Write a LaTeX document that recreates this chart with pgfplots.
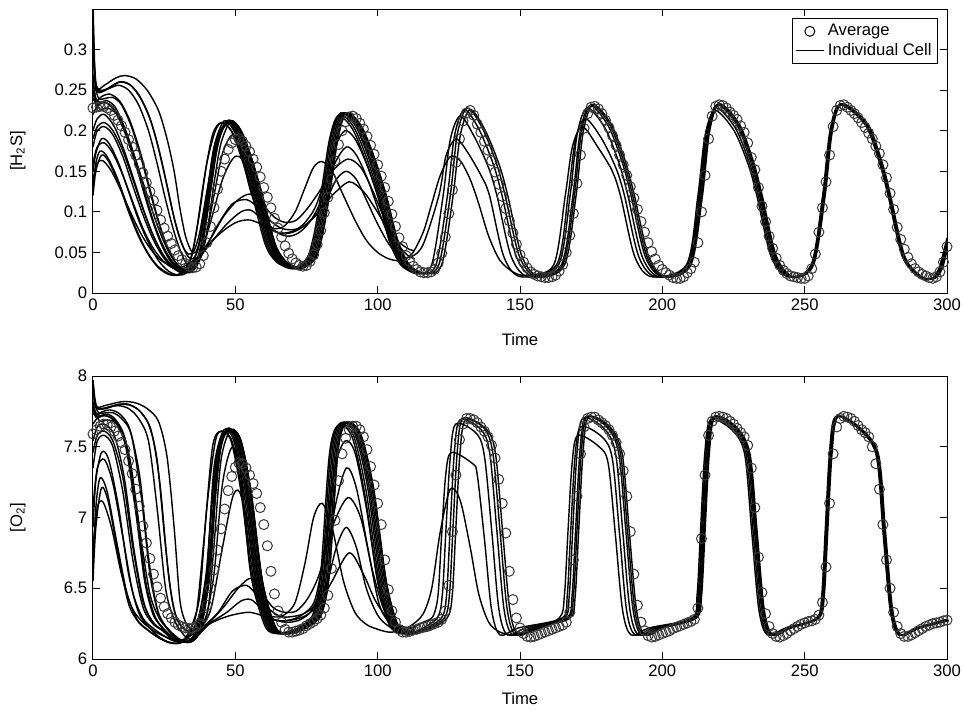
\documentclass[border=0pt]{standalone}
\usepackage{fontspec}
\setmainfont{Liberation Sans}
\usepackage{pgfplots}
\usepackage{pgfplotstable}
\pgfplotsset{compat=1.18}
\pgfplotstableread{
t h o
0 0.228 7.59
1.25 0.229 7.62
2.5 0.23 7.645
3.75 0.23 7.66
5 0.228 7.655
6.25 0.225 7.64
7.5 0.219 7.61
8.75 0.213 7.575
10 0.206 7.53
11.25 0.198 7.48
12.5 0.189 7.4
13.75 0.18 7.31
15 0.17 7.2
16.25 0.159 7.08
17.5 0.148 6.94
18.75 0.136 6.82
20 0.125 6.71
21.25 0.114 6.6
22.5 0.102 6.51
23.75 0.09 6.43
25 0.08 6.37
26.25 0.07 6.32
27.5 0.061 6.29
28.75 0.053 6.26
30 0.046 6.24
31.25 0.041 6.228
32.5 0.036 6.22
33.75 0.033 6.215
35 0.031 6.218
36.25 0.032 6.23
37.5 0.036 6.25
38.75 0.046 6.3
40 0.062 6.38
41.25 0.082 6.5
42.5 0.105 6.63
43.75 0.128 6.77
45 0.15 6.92
46.25 0.165 7.06
47.5 0.177 7.19
48.75 0.185 7.29
50 0.189 7.355
51.25 0.19 7.385
52.5 0.187 7.38
53.75 0.181 7.35
55 0.174 7.3
56.25 0.165 7.24
57.5 0.155 7.17
58.75 0.143 7.07
60 0.13 6.95
61.25 0.118 6.8
62.5 0.105 6.62
63.75 0.092 6.46
65 0.08 6.34
66.25 0.069 6.26
67.5 0.058 6.21
68.75 0.049 6.19
70 0.042 6.19
71.25 0.037 6.197
72.5 0.034 6.205
73.75 0.033 6.215
75 0.034 6.235
76.25 0.039 6.25
77.5 0.047 6.265
78.75 0.06 6.285
80 0.077 6.31
81.25 0.099 6.36
82.5 0.118 6.45
83.75 0.14 6.64
85 0.163 6.98
86.25 0.183 7.26
87.5 0.2 7.45
88.75 0.211 7.56
90 0.217 7.62
91.25 0.218 7.645
92.5 0.215 7.645
93.75 0.209 7.62
95 0.202 7.57
96.25 0.193 7.48
97.5 0.182 7.36
98.75 0.171 7.23
100 0.158 7.1
101.25 0.144 6.95
102.5 0.13 6.7
103.75 0.113 6.49
105 0.097 6.34
106.25 0.082 6.26
107.5 0.068 6.21
108.75 0.057 6.19
110 0.046 6.19
111.25 0.039 6.195
112.5 0.033 6.205
113.75 0.029 6.21
115 0.026 6.22
116.25 0.025 6.225
117.5 0.025 6.23
118.75 0.026 6.24
120 0.029 6.25
121.25 0.037 6.26
122.5 0.049 6.28
123.75 0.069 6.34
125 0.098 6.52
126.25 0.127 6.9
127.5 0.161 7.3
128.75 0.19 7.55
130 0.212 7.66
131.25 0.222 7.7
132.5 0.225 7.7
133.75 0.219 7.69
135 0.208 7.67
136.25 0.198 7.64
137.5 0.187 7.61
138.75 0.176 7.57
140 0.163 7.51
141.25 0.149 7.42
142.5 0.134 7.27
143.75 0.119 7.1
145 0.104 6.89
146.25 0.089 6.62
147.5 0.074 6.42
148.75 0.06 6.29
150 0.047 6.22
151.25 0.038 6.18
152.5 0.031 6.16
153.75 0.026 6.155
155 0.023 6.16
156.25 0.021 6.17
157.5 0.02 6.18
158.75 0.019 6.19
160 0.019 6.2
161.25 0.02 6.21
162.5 0.022 6.22
163.75 0.027 6.23
165 0.035 6.24
166.25 0.05 6.26
167.5 0.071 6.33
168.75 0.098 6.7
170 0.135 7.15
171.25 0.17 7.45
172.5 0.203 7.64
173.75 0.221 7.7
175 0.229 7.71
176.25 0.23 7.71
177.5 0.227 7.69
178.75 0.221 7.67
180 0.213 7.65
181.25 0.204 7.62
182.5 0.194 7.58
183.75 0.182 7.53
185 0.17 7.45
186.25 0.158 7.33
187.5 0.145 7.15
188.75 0.131 6.9
190 0.117 6.6
191.25 0.103 6.38
192.5 0.088 6.26
193.75 0.075 6.2
195 0.062 6.165
196.25 0.051 6.155
197.5 0.042 6.16
198.75 0.034 6.17
200 0.029 6.18
201.25 0.025 6.19
202.5 0.022 6.2
203.75 0.019 6.215
205 0.018 6.225
206.25 0.018 6.235
207.5 0.02 6.245
208.75 0.025 6.255
210 0.03 6.265
211.25 0.038 6.28
212.5 0.062 6.36
213.75 0.1 6.85
215 0.145 7.3
216.25 0.19 7.58
217.5 0.218 7.68
218.75 0.23 7.71
220 0.232 7.715
221.25 0.231 7.71
222.5 0.228 7.7
223.75 0.223 7.68
225 0.219 7.66
226.25 0.214 7.63
227.5 0.206 7.6
228.75 0.198 7.57
230 0.185 7.51
231.25 0.167 7.35
232.5 0.152 7.07
233.75 0.13 6.72
235 0.107 6.47
236.25 0.088 6.32
237.5 0.07 6.23
238.75 0.055 6.18
240 0.043 6.16
241.25 0.034 6.155
242.5 0.028 6.165
243.75 0.024 6.18
245 0.021 6.2
246.25 0.02 6.215
247.5 0.019 6.23
248.75 0.018 6.245
250 0.018 6.255
251.25 0.021 6.265
252.5 0.03 6.27
253.75 0.048 6.28
255 0.075 6.31
256.25 0.105 6.4
257.5 0.137 6.65
258.75 0.17 7.1
260 0.205 7.45
261.25 0.225 7.64
262.5 0.231 7.7
263.75 0.232 7.715
265 0.229 7.71
266.25 0.225 7.7
267.5 0.221 7.68
268.75 0.216 7.65
270 0.21 7.62
271.25 0.204 7.6
272.5 0.197 7.57
273.75 0.19 7.5
275 0.181 7.38
276.25 0.172 7.2
277.5 0.158 6.95
278.75 0.142 6.7
280 0.123 6.5
281.25 0.103 6.33
282.5 0.081 6.23
283.75 0.066 6.18
285 0.054 6.16
286.25 0.044 6.16
287.5 0.036 6.17
288.75 0.03 6.185
290 0.026 6.2
291.25 0.023 6.215
292.5 0.021 6.23
293.75 0.019 6.24
295 0.018 6.25
296.25 0.02 6.255
297.5 0.026 6.26
298.75 0.038 6.27
300 0.057 6.275
}\avgdata
\begin{document}
\begin{tikzpicture}[font=\fontsize{10}{12}\selectfont]
\pgfplotsset{
 cell/.style={black, line width=0.85pt, smooth, mark=none, forget plot},
 avgm/.style={only marks, mark=o, mark size=3pt, color=black!78, mark options={line width=0.6pt}, forget plot},
 base/.style={scale only axis, width=512.4pt, xmin=0, xmax=300, xtick={0,50,100,150,200,250,300},
   tick align=inside, major tick length=4pt, axis line style={line width=0.6pt},
   every tick/.style={black, line width=0.6pt}, /pgf/number format/assume math mode=true,
   anchor=north west, xlabel={Time},
   tick label style={font=\fontsize{10}{12}\selectfont}, label style={font=\fontsize{10}{12}\selectfont}}
}
\useasboundingbox (-55.8pt,5.4pt) rectangle (522.6pt,-420.6pt);
% ---------------- H2S ----------------
\begin{axis}[base, at={(0pt,0pt)}, height=170.4pt, ymin=0, ymax=0.35,
  ytick={0,0.05,0.1,0.15,0.2,0.25,0.3},
  yticklabel style={/pgf/number format/fixed, /pgf/number format/precision=2},
  ylabel={[H\textsubscript{2}S]},
  ylabel style={at={(axis description cs:-0.088,0.5)}, anchor=center},
  xlabel style={at={(axis description cs:0.5,-0.1655)}, anchor=center},
  legend style={at={(axis description cs:1,1)}, anchor=north east, xshift=-5.4pt, yshift=-5.4pt,
    draw=black, line width=0.6pt, font=\fontsize{10}{12}\selectfont, inner sep=1.5pt, row sep=-1pt},
  legend cell align=left]
\addlegendimage{only marks, mark=o, mark size=3pt, black, mark options={line width=0.6pt}}
\addlegendentry{Average}
\addlegendimage{black, line width=0.6pt, mark=none}
\addlegendentry{Individual Cell}
% L1
\addplot[cell] coordinates {(0,0.36)(0.6,0.28)(1.5,0.252)(4,0.256)(8,0.265)(11,0.268)(15,0.264)(19,0.25)(23,0.225)(26,0.19)(28.5,0.15)(30.5,0.105)(32.5,0.07)(34.5,0.052)(36,0.05)(37.5,0.065)(39.5,0.11)(42.5,0.176)(45.5,0.205)(48.5,0.212)(51.5,0.2)(55,0.168)(59,0.12)(63.5,0.06)(67.5,0.038)(72.5,0.03)(77.5,0.042)(80,0.07)(82.5,0.12)(85.5,0.19)(88.5,0.222)(93.5,0.207)(98,0.17)(102.5,0.12)(106.5,0.065)(110.5,0.035)(116,0.024)(121.5,0.035)(125.5,0.12)(128,0.196)(131.5,0.228)(136.8,0.203)(141.8,0.159)(144.8,0.12)(149.8,0.045)(155.8,0.02)(165.1,0.035)(169.1,0.12)(171.6,0.198)(175.1,0.232)(181.6,0.207)(186.6,0.16)(189.6,0.12)(194.6,0.045)(200.6,0.02)(209.8,0.035)(213.8,0.12)(216.3,0.199)(219.8,0.233)(226.8,0.208)(231.8,0.161)(234.8,0.12)(239.8,0.045)(245.8,0.02)(252.9,0.035)(256.9,0.12)(259.4,0.199)(262.9,0.233)(271.9,0.208)(276.9,0.161)(279.9,0.12)(284.9,0.045)(290.9,0.02)(295.5,0.018)(298,0.03)(300,0.058)};
% L2
\addplot[cell] coordinates {(0,0.24)(1,0.235)(3,0.242)(6,0.245)(9.5,0.236)(13,0.212)(16.5,0.175)(19.5,0.135)(22.5,0.095)(25.5,0.062)(28.5,0.04)(31.5,0.028)(34,0.025)(36.5,0.034)(38.5,0.06)(41,0.12)(43.5,0.18)(47,0.212)(50.5,0.2)(54,0.168)(58,0.12)(62.5,0.06)(66.5,0.038)(71.5,0.03)(76.5,0.042)(79,0.07)(81.5,0.12)(84.5,0.19)(87.5,0.222)(92.5,0.207)(97,0.17)(101.5,0.12)(105.5,0.065)(109.5,0.035)(115,0.024)(120.5,0.035)(124.5,0.12)(127,0.194)(130.5,0.226)(135.7,0.201)(140.7,0.158)(143.7,0.12)(148.7,0.045)(154.7,0.02)(164.6,0.035)(168.6,0.12)(171.1,0.197)(174.6,0.231)(181,0.206)(186,0.16)(189,0.12)(194,0.045)(200,0.02)(209.6,0.035)(213.6,0.12)(216.1,0.199)(219.6,0.233)(226.6,0.208)(231.6,0.161)(234.6,0.12)(239.6,0.045)(245.6,0.02)(252.7,0.035)(256.7,0.12)(259.2,0.199)(262.7,0.233)(271.7,0.208)(276.7,0.161)(279.7,0.12)(284.7,0.045)(290.7,0.02)(295.3,0.018)(297.8,0.031)(300,0.062)};
% L3
\addplot[cell] coordinates {(0,0.15)(1,0.172)(3,0.19)(5.5,0.185)(9,0.16)(12.5,0.125)(16,0.09)(19.5,0.062)(23,0.04)(26.5,0.027)(30,0.022)(33,0.025)(35.5,0.04)(37.5,0.065)(40,0.12)(42.5,0.18)(46,0.212)(49.5,0.2)(53,0.168)(57,0.12)(61.5,0.06)(65.5,0.038)(70.5,0.03)(75.5,0.042)(78,0.07)(80.5,0.12)(83.5,0.19)(86.5,0.22)(91.5,0.205)(96,0.168)(100.5,0.12)(104.5,0.065)(108.5,0.035)(114,0.024)(119,0.035)(123,0.12)(125.5,0.189)(129,0.218)(133.9,0.193)(138.9,0.155)(141.9,0.12)(146.9,0.045)(152.9,0.02)(163.6,0.035)(167.6,0.12)(170.1,0.196)(173.6,0.228)(179.9,0.203)(184.9,0.159)(187.9,0.12)(192.9,0.045)(198.9,0.02)(209.2,0.035)(213.2,0.12)(215.7,0.198)(219.2,0.232)(226.2,0.207)(231.2,0.16)(234.2,0.12)(239.2,0.045)(245.2,0.02)(252.6,0.035)(256.6,0.12)(259.1,0.199)(262.6,0.233)(271.6,0.208)(276.6,0.161)(279.6,0.12)(284.6,0.045)(290.6,0.02)(295.2,0.018)(297.7,0.032)(300,0.064)};
% L4
\addplot[cell] coordinates {(0,0.2)(1.5,0.215)(4,0.22)(7.5,0.205)(11,0.175)(14.5,0.138)(18,0.1)(21.5,0.068)(25,0.045)(28.5,0.032)(32,0.03)(36,0.038)(41,0.06)(47,0.085)(52,0.1)(55.5,0.102)(59,0.092)(63,0.08)(67,0.082)(71,0.1)(74.5,0.13)(77.5,0.155)(80.5,0.162)(84,0.15)(88,0.12)(92,0.09)(96,0.065)(100,0.05)(104,0.042)(108,0.04)(112,0.048)(116,0.075)(119,0.11)(122,0.145)(125.5,0.168)(129,0.163)(132.5,0.14)(135.5,0.11)(139,0.07)(143,0.04)(148,0.025)(153,0.022)(161.9,0.035)(165.9,0.12)(168.4,0.18)(171.9,0.205)(177.3,0.18)(182.3,0.151)(185.3,0.12)(190.3,0.045)(196.3,0.02)(208.5,0.035)(212.5,0.12)(215,0.194)(218.5,0.225)(225.2,0.2)(230.2,0.158)(233.2,0.12)(238.2,0.045)(244.2,0.02)(252.3,0.035)(256.3,0.12)(258.8,0.198)(262.3,0.232)(271.3,0.207)(276.3,0.16)(279.3,0.12)(284.3,0.045)(290.3,0.02)(294.9,0.018)(297.4,0.033)(300,0.068)};
% L5
\addplot[cell] coordinates {(0,0.22)(1.5,0.23)(4.5,0.235)(8,0.222)(11.5,0.195)(15,0.158)(18.5,0.118)(22,0.08)(25.5,0.052)(29,0.034)(32.5,0.028)(36,0.035)(39.5,0.055)(44,0.085)(49,0.11)(54,0.115)(58,0.105)(62,0.09)(66,0.08)(70,0.078)(74,0.082)(78,0.095)(82,0.115)(85.5,0.14)(89,0.15)(92.5,0.14)(96,0.115)(100,0.085)(104,0.06)(108,0.045)(112,0.045)(116,0.06)(121.5,0.12)(124,0.169)(127.5,0.19)(131.3,0.175)(136.3,0.145)(139.3,0.12)(144.3,0.045)(150.3,0.02)(162.9,0.035)(166.9,0.12)(169.4,0.187)(172.9,0.215)(178.7,0.19)(183.7,0.154)(186.7,0.12)(191.7,0.045)(197.7,0.02)(208.9,0.035)(212.9,0.12)(215.4,0.196)(218.9,0.228)(225.7,0.203)(230.7,0.159)(233.7,0.12)(238.7,0.045)(244.7,0.02)(252.5,0.035)(256.5,0.12)(259,0.198)(262.5,0.232)(271.5,0.207)(276.5,0.16)(279.5,0.12)(284.5,0.045)(290.5,0.02)(295.1,0.018)(297.6,0.032)(300,0.066)};
% L6
\addplot[cell] coordinates {(0,0.3)(0.8,0.26)(2.5,0.25)(5.5,0.252)(9,0.256)(12.5,0.25)(16,0.232)(19.5,0.2)(22.5,0.16)(25.5,0.115)(28.5,0.075)(31.5,0.045)(34,0.032)(36.5,0.035)(38.5,0.05)(40.5,0.085)(42.5,0.135)(45,0.185)(48.5,0.212)(52,0.2)(55.5,0.168)(59.5,0.12)(64,0.06)(68,0.038)(73,0.03)(78,0.042)(80.5,0.07)(83,0.12)(86,0.19)(89,0.222)(94,0.207)(98.5,0.17)(103,0.12)(107,0.065)(111,0.035)(117,0.024)(122.5,0.035)(126.5,0.12)(129,0.194)(132.5,0.226)(137.7,0.201)(142.7,0.158)(145.7,0.12)(150.7,0.045)(156.7,0.02)(165.7,0.035)(169.7,0.12)(172.2,0.198)(175.7,0.232)(182.2,0.207)(187.2,0.16)(190.2,0.12)(195.2,0.045)(201.2,0.02)(210.1,0.035)(214.1,0.12)(216.6,0.199)(220.1,0.233)(227.1,0.208)(232.1,0.161)(235.1,0.12)(240.1,0.045)(246.1,0.02)(253.2,0.035)(257.2,0.12)(259.7,0.199)(263.2,0.233)(272.2,0.208)(277.2,0.161)(280.2,0.12)(285.2,0.045)(291.2,0.02)(295.8,0.018)(298.3,0.03)(300,0.052)};
% E1
\addplot[cell] coordinates {(0,0.33)(0.6,0.27)(1.5,0.25)(4,0.25)(7,0.256)(10,0.26)(13.5,0.255)(17,0.238)(20.5,0.21)(23.5,0.172)(26.5,0.125)(29,0.085)(31.5,0.058)(33.5,0.048)(35.5,0.052)(37.5,0.075)(40,0.125)(43,0.18)(46.5,0.21)(49,0.212)(52,0.2)(55.5,0.168)(59.5,0.12)(64,0.06)(68,0.038)(73,0.03)(78,0.042)(80.5,0.07)(83,0.12)(86,0.19)(89,0.222)(94,0.207)(98.5,0.17)(103,0.12)(107,0.065)(111,0.035)(114,0.027)};
% E2
\addplot[cell] coordinates {(0,0.26)(1,0.24)(2.5,0.235)(5,0.237)(8,0.228)(11.5,0.2)(15,0.16)(18,0.122)(21,0.088)(24,0.06)(27,0.04)(30,0.029)(33,0.026)(35.5,0.033)(38,0.06)(40.5,0.115)(43,0.175)(46,0.207)(48,0.212)(51,0.2)(54.5,0.168)(58.5,0.12)(63,0.06)(67,0.038)(72,0.03)(77,0.042)(79.5,0.07)(82,0.12)(85,0.19)(88,0.222)(93,0.207)(97.5,0.17)(102,0.12)(106,0.065)(110,0.035)(114,0.026)};
% E3
\addplot[cell] coordinates {(0,0.12)(1,0.15)(3,0.17)(5.5,0.162)(9,0.135)(12.5,0.1)(16,0.07)(19.5,0.047)(23,0.031)(26.5,0.023)(30,0.022)(33,0.03)(35,0.05)(37.5,0.1)(40,0.16)(43,0.2)(45.5,0.21)(49,0.198)(52.5,0.166)(56.5,0.12)(61,0.06)(65,0.038)(70,0.03)(75,0.042)(77.5,0.07)(80,0.12)(83,0.188)(86,0.218)(91,0.203)(95.5,0.166)(100,0.12)(104,0.065)(108,0.035)(113,0.024)};
% E4
\addplot[cell] coordinates {(0,0.25)(1,0.232)(3,0.235)(6,0.232)(9.5,0.215)(13,0.185)(16.5,0.148)(20,0.11)(23.5,0.075)(27,0.048)(30.5,0.032)(34,0.028)(37,0.038)(39.5,0.065)(42.5,0.12)(45.5,0.172)(49,0.195)(52,0.175)(55,0.13)(58,0.1)(62,0.08)(66,0.074)(70,0.076)(74,0.085)(78,0.105)(81.5,0.14)(85,0.18)(88.5,0.2)(92,0.19)(96,0.16)(100,0.12)(104,0.075)(108,0.045)(112,0.032)};
% E5
\addplot[cell] coordinates {(0,0.18)(1.5,0.2)(4,0.205)(7,0.195)(10.5,0.168)(14,0.132)(17.5,0.097)(21,0.067)(24.5,0.045)(28,0.031)(31.5,0.026)(35,0.032)(38,0.05)(41.5,0.09)(45.5,0.14)(49,0.165)(51.5,0.168)(54.5,0.15)(57.5,0.115)(61,0.088)(65,0.074)(69,0.07)(73,0.076)(77,0.092)(81,0.12)(85,0.16)(89,0.18)(92.5,0.17)(96.5,0.14)(100.5,0.1)(104.5,0.065)(108.5,0.042)(112,0.033)};
% E6
\addplot[cell] coordinates {(0,0.16)(1.5,0.18)(4,0.185)(7,0.172)(10.5,0.145)(14,0.112)(17.5,0.08)(21,0.056)(24.5,0.04)(28,0.031)(32,0.03)(36,0.04)(41,0.065)(46,0.095)(51,0.115)(55.5,0.122)(59.5,0.11)(63.5,0.094)(67.5,0.087)(71.5,0.09)(75.5,0.105)(79.5,0.125)(84,0.15)(89.5,0.165)(94,0.155)(98,0.128)(102,0.095)(106,0.066)(110,0.048)(113,0.042)};
% E7
\addplot[cell] coordinates {(0,0.14)(1.5,0.16)(3.5,0.163)(6.5,0.15)(10,0.125)(13.5,0.097)(17,0.072)(20.5,0.053)(24,0.04)(28,0.033)(32,0.033)(37,0.045)(42,0.065)(47,0.08)(51,0.088)(55,0.09)(59,0.085)(63,0.077)(67,0.073)(71,0.076)(75,0.085)(79.5,0.1)(84,0.12)(90,0.137)(95,0.125)(99,0.105)(103,0.082)(107,0.064)(111,0.054)(113,0.052)};
% E8
\addplot[cell] coordinates {(0,0.32)(0.7,0.26)(2,0.24)(4.5,0.24)(7,0.241)(10,0.232)(13.5,0.205)(17,0.165)(20,0.125)(23,0.088)(26,0.058)(29,0.038)(32,0.028)(34.5,0.026)(37,0.038)(39,0.07)(41.5,0.13)(44,0.185)(47,0.212)(50,0.2)(53.5,0.168)(57.5,0.12)(62,0.06)(66,0.038)(71,0.03)(76,0.042)(78.5,0.07)(81,0.12)(84,0.19)(87,0.222)(92,0.207)(96.5,0.17)(101,0.12)(105,0.065)(109,0.035)(113,0.026)};
% E9
\addplot[cell] coordinates {(0,0.19)(1.5,0.205)(4,0.21)(7,0.2)(10.5,0.175)(14,0.14)(17.5,0.104)(21,0.072)(24.5,0.048)(28,0.032)(31,0.025)(34,0.027)(36.5,0.04)(38.5,0.065)(41,0.12)(43.5,0.18)(47,0.212)(50.5,0.2)(54,0.168)(58,0.12)(62.5,0.06)(66.5,0.038)(71.5,0.03)};
% E10
\addplot[cell] coordinates {(0,0.34)(0.6,0.27)(1.5,0.248)(4.5,0.25)(9,0.26)(12.5,0.258)(16,0.245)(19.5,0.22)(22.5,0.185)(25.5,0.14)(28,0.1)(30.5,0.068)(33,0.047)(35,0.042)(37,0.055)(39,0.09)(41.5,0.145)(44.5,0.195)(48,0.212)(51,0.2)(54.5,0.168)(58.5,0.12)(63,0.06)(67,0.038)(72,0.03)};
% E11
\addplot[cell] coordinates {(0,0.27)(0.8,0.24)(2.5,0.226)(5,0.228)(8.5,0.22)(12,0.195)(15.5,0.158)(18.5,0.12)(21.5,0.085)(24.5,0.058)(27.5,0.04)(30.5,0.03)(33,0.027)(35.5,0.032)(37.5,0.05)(39.5,0.09)(42,0.15)(45,0.197)(48.5,0.212)(52,0.2)(55.5,0.168)(59.5,0.12)(64,0.06)(68,0.038)(73,0.03)};
% E12
\addplot[cell] coordinates {(0,0.13)(1,0.16)(2.5,0.175)(5,0.168)(8.5,0.142)(12,0.108)(15.5,0.076)(19,0.051)(22.5,0.034)(26,0.025)(29,0.022)(32,0.028)(34.5,0.045)(36.5,0.08)(39,0.14)(42,0.195)(45,0.21)(48.5,0.2)(52,0.168)(56,0.12)(60.5,0.06)(64.5,0.038)(69.5,0.03)};
\addplot[avgm] table[x=t,y=h]{\avgdata};
\end{axis}
% ---------------- O2 ----------------
\begin{axis}[base, at={(0pt,-220.2pt)}, height=169.8pt, ymin=6, ymax=8,
  ytick={6,6.5,7,7.5,8},
  yticklabel style={/pgf/number format/fixed, /pgf/number format/precision=1},
  ylabel={[O\textsubscript{2}]},
  ylabel style={at={(axis description cs:-0.088,0.5)}, anchor=center},
  xlabel style={at={(axis description cs:0.5,-0.138)}, anchor=center}]
% L1
\addplot[cell] coordinates {(0,7.97)(0.6,7.85)(1.5,7.78)(4,7.79)(8,7.81)(11,7.82)(15,7.81)(19,7.77)(23,7.68)(26,7.43)(28.5,6.93)(30.5,6.42)(32.5,6.26)(34.5,6.21)(36,6.21)(37.5,6.29)(39.5,6.5)(42.5,7.3)(45.5,7.58)(48.5,7.62)(51.5,7.54)(55,7.18)(59,6.55)(63.5,6.23)(67.5,6.18)(72.5,6.2)(77.5,6.26)(80,6.33)(82.5,6.6)(85.5,7.46)(88.5,7.67)(93.5,7.59)(98,7.21)(102.5,6.55)(106.5,6.245)(110.5,6.18)(116,6.2)(123.4,6.29)(125.2,6.45)(126.4,6.9)(127.9,7.45)(129.9,7.7)(137.4,7.63)(140.5,7.45)(143,6.9)(145.5,6.35)(148.5,6.17)(155,6.22)(167,6.29)(168.8,6.45)(170,6.9)(171.5,7.45)(173.5,7.71)(181,7.64)(185.3,7.45)(187.8,6.9)(190.3,6.35)(193.3,6.17)(199.8,6.22)(211.7,6.29)(213.5,6.45)(214.7,6.9)(216.2,7.45)(218.2,7.71)(225.7,7.64)(230.5,7.45)(233,6.9)(235.5,6.35)(238.5,6.17)(245,6.22)(254.8,6.29)(256.6,6.45)(257.8,6.9)(259.3,7.45)(261.3,7.71)(268.8,7.64)(275.6,7.45)(278.1,6.9)(280.6,6.35)(283.6,6.17)(290.1,6.22)(300,6.27)};
% L2
\addplot[cell] coordinates {(0,7.74)(1,7.72)(3,7.745)(6,7.76)(9.5,7.73)(13,7.62)(16.5,7.28)(19.5,6.72)(22.5,6.36)(25.5,6.23)(28.5,6.16)(31.5,6.13)(34,6.12)(36.5,6.18)(38.5,6.3)(41,6.6)(43.5,7.35)(47,7.62)(50.5,7.54)(54,7.18)(58,6.55)(62.5,6.23)(66.5,6.18)(71.5,6.2)(76.5,6.26)(79,6.33)(81.5,6.6)(84.5,7.46)(87.5,7.67)(92.5,7.59)(97,7.21)(101.5,6.55)(105.5,6.245)(109.5,6.18)(115,6.2)(122.4,6.29)(124.2,6.45)(125.4,6.9)(126.9,7.45)(128.9,7.69)(136.4,7.62)(139.4,7.45)(141.9,6.9)(144.4,6.35)(147.4,6.17)(153.9,6.22)(166.5,6.29)(168.3,6.45)(169.5,6.9)(171,7.45)(173,7.71)(180.5,7.64)(184.7,7.45)(187.2,6.9)(189.7,6.35)(192.7,6.17)(199.2,6.22)(211.5,6.29)(213.3,6.45)(214.5,6.9)(216,7.45)(218,7.71)(225.5,7.64)(230.3,7.45)(232.8,6.9)(235.3,6.35)(238.3,6.17)(244.8,6.22)(254.6,6.29)(256.4,6.45)(257.6,6.9)(259.1,7.45)(261.1,7.71)(268.6,7.64)(275.4,7.45)(277.9,6.9)(280.4,6.35)(283.4,6.17)(289.9,6.22)(300,6.27)};
% L3
\addplot[cell] coordinates {(0,6.93)(1,7.26)(3,7.46)(5.5,7.41)(9,7.07)(12.5,6.6)(16,6.33)(19.5,6.23)(23,6.16)(26.5,6.12)(30,6.11)(33,6.14)(35.5,6.22)(37.5,6.32)(40,6.6)(42.5,7.35)(46,7.62)(49.5,7.54)(53,7.18)(57,6.55)(61.5,6.23)(65.5,6.18)(70.5,6.2)(75.5,6.26)(78,6.33)(80.5,6.6)(83.5,7.46)(86.5,7.66)(91.5,7.58)(96,7.18)(100.5,6.55)(104.5,6.245)(108.5,6.18)(114,6.2)(120.9,6.29)(122.7,6.45)(123.9,6.88)(125.4,7.4)(127.4,7.66)(134.9,7.59)(137.6,7.42)(140.1,6.9)(142.6,6.35)(145.6,6.17)(152.1,6.22)(165.5,6.29)(167.3,6.45)(168.5,6.9)(170,7.45)(172,7.7)(179.5,7.63)(183.6,7.45)(186.1,6.9)(188.6,6.35)(191.6,6.17)(198.1,6.22)(211.1,6.29)(212.9,6.45)(214.1,6.9)(215.6,7.45)(217.6,7.71)(225.1,7.64)(229.9,7.45)(232.4,6.9)(234.9,6.35)(237.9,6.17)(244.4,6.22)(254.5,6.29)(256.3,6.45)(257.5,6.9)(259,7.45)(261,7.71)(268.5,7.64)(275.3,7.45)(277.8,6.9)(280.3,6.35)(283.3,6.17)(289.8,6.22)(300,6.27)};
% L4
\addplot[cell] coordinates {(0,7.54)(1.5,7.64)(4,7.66)(7.5,7.58)(11,7.28)(14.5,6.76)(18,6.39)(21.5,6.25)(25,6.2)(28.5,6.14)(32,6.12)(36,6.15)(41,6.25)(47,6.33)(52,6.41)(55.5,6.42)(59,6.36)(63,6.3)(67,6.31)(71,6.4)(74.5,6.68)(77.5,7.0)(80.5,7.1)(84,6.93)(88,6.55)(92,6.33)(96,6.245)(100,6.21)(104,6.19)(108,6.2)(112,6.24)(116,6.32)(119,6.5)(122,6.9)(125.5,7.2)(129,7.12)(132.5,6.79)(135.5,6.46)(139,6.26)(143,6.19)(148,6.17)(153,6.19)(163.8,6.29)(165.6,6.45)(166.8,6.88)(168.3,7.38)(170.3,7.58)(177.8,7.5)(181,7.38)(183.5,6.88)(186,6.35)(189,6.17)(195.5,6.22)(210.4,6.29)(212.2,6.45)(213.4,6.9)(214.9,7.45)(216.9,7.69)(224.4,7.62)(228.9,7.45)(231.4,6.9)(233.9,6.35)(236.9,6.17)(243.4,6.22)(254.2,6.29)(256,6.45)(257.2,6.9)(258.7,7.45)(260.7,7.71)(268.2,7.64)(275,7.45)(277.5,6.9)(280,6.35)(283,6.17)(289.5,6.22)(300,6.28)};
% L5
\addplot[cell] coordinates {(0,7.66)(1.5,7.7)(4.5,7.72)(8,7.67)(11.5,7.5)(15,7.04)(18.5,6.53)(22,6.29)(25.5,6.2)(29,6.14)(32.5,6.12)(36,6.15)(39.5,6.24)(44,6.33)(49,6.48)(54,6.52)(58,6.44)(62,6.35)(66,6.3)(70,6.3)(74,6.32)(78,6.38)(82,6.52)(85.5,6.79)(89,6.93)(92.5,6.79)(96,6.5)(100,6.31)(104,6.23)(108,6.2)(112,6.22)(116,6.26)(119.4,6.3)(121.2,6.45)(122.4,6.85)(123.9,7.3)(125.9,7.46)(133.4,7.38)(135,7.3)(137.5,6.85)(140,6.35)(143,6.17)(149.5,6.22)(164.8,6.29)(166.6,6.45)(167.8,6.9)(169.3,7.42)(171.3,7.64)(178.8,7.57)(182.4,7.42)(184.9,6.9)(187.4,6.35)(190.4,6.17)(196.9,6.22)(210.8,6.29)(212.6,6.45)(213.8,6.9)(215.3,7.45)(217.3,7.7)(224.8,7.63)(229.4,7.45)(231.9,6.9)(234.4,6.35)(237.4,6.17)(243.9,6.22)(254.4,6.29)(256.2,6.45)(257.4,6.9)(258.9,7.45)(260.9,7.71)(268.4,7.64)(275.2,7.45)(277.7,6.9)(280.2,6.35)(283.2,6.17)(289.7,6.22)(300,6.28)};
% L6
\addplot[cell] coordinates {(0,7.9)(0.8,7.8)(2.5,7.77)(5.5,7.78)(9,7.79)(12.5,7.77)(16,7.7)(19.5,7.54)(22.5,7.07)(25.5,6.5)(28.5,6.28)(31.5,6.18)(34,6.14)(36.5,6.16)(38.5,6.25)(40.5,6.36)(42.5,6.8)(45,7.41)(48.5,7.62)(52,7.54)(55.5,7.18)(59.5,6.55)(64,6.23)(68,6.18)(73,6.2)(78,6.26)(80.5,6.33)(83,6.6)(86,7.46)(89,7.67)(94,7.59)(98.5,7.21)(103,6.55)(107,6.245)(111,6.18)(117,6.2)(124.4,6.29)(126.2,6.45)(127.4,6.9)(128.9,7.45)(130.9,7.69)(138.4,7.62)(141.4,7.45)(143.9,6.9)(146.4,6.35)(149.4,6.17)(155.9,6.22)(167.6,6.29)(169.4,6.45)(170.6,6.9)(172.1,7.45)(174.1,7.71)(181.6,7.64)(185.9,7.45)(188.4,6.9)(190.9,6.35)(193.9,6.17)(200.4,6.22)(212,6.29)(213.8,6.45)(215,6.9)(216.5,7.45)(218.5,7.71)(226,7.64)(230.8,7.45)(233.3,6.9)(235.8,6.35)(238.8,6.17)(245.3,6.22)(255.1,6.29)(256.9,6.45)(258.1,6.9)(259.6,7.45)(261.6,7.71)(269.1,7.64)(275.9,7.45)(278.4,6.9)(280.9,6.35)(283.9,6.17)(290.4,6.22)(300,6.27)};
% E1
\addplot[cell] coordinates {(0,7.95)(0.6,7.82)(1.5,7.77)(4,7.77)(7,7.79)(10,7.8)(13.5,7.79)(17,7.74)(20.5,7.61)(23.5,7.24)(26.5,6.6)(29,6.31)(31.5,6.22)(33.5,6.2)(35.5,6.22)(37.5,6.33)(40,6.65)(43,7.35)(46.5,7.61)(49,7.62)(52,7.54)(55.5,7.18)(59.5,6.55)(64,6.23)(68,6.18)(73,6.2)(78,6.26)(80.5,6.33)(83,6.6)(86,7.46)(89,7.67)(94,7.59)(98.5,7.21)(103,6.55)(107,6.245)(111,6.18)(114,6.19)};
% E2
\addplot[cell] coordinates {(0,7.8)(1,7.74)(2.5,7.72)(5,7.73)(8,7.69)(11.5,7.54)(15,7.07)(18,6.57)(21,6.32)(24,6.23)(27,6.16)(30,6.13)(33,6.12)(35.5,6.17)(38,6.3)(40.5,6.55)(43,7.28)(46,7.58)(48,7.62)(51,7.54)(54.5,7.18)(58.5,6.55)(63,6.23)(67,6.18)(72,6.2)(77,6.26)(79.5,6.33)(82,6.6)(85,7.46)(88,7.67)(93,7.59)(97.5,7.21)(102,6.55)(106,6.245)(110,6.18)(114,6.19)};
% E3
\addplot[cell] coordinates {(0,6.55)(1,6.93)(3,7.21)(5.5,7.1)(9,6.72)(12.5,6.39)(16,6.26)(19.5,6.2)(23,6.15)(26.5,6.12)(30,6.11)(33,6.15)(35,6.25)(37.5,6.45)(40,7.07)(43,7.54)(45.5,7.61)(49,7.53)(52.5,7.16)(56.5,6.55)(61,6.23)(65,6.18)(70,6.2)(75,6.26)(77.5,6.33)(80,6.6)(83,7.44)(86,7.65)(91,7.57)(95.5,7.16)(100,6.55)(104,6.245)(108,6.18)(113,6.2)};
% E4
\addplot[cell] coordinates {(0,7.77)(1,7.71)(3,7.72)(6,7.71)(9.5,7.64)(13,7.41)(16.5,6.9)(20,6.46)(23.5,6.28)(27,6.2)(30.5,6.14)(34,6.12)(37,6.17)(39.5,6.28)(42.5,6.6)(45.5,7.24)(49,7.5)(52,7.28)(55,6.66)(58,6.39)(62,6.29)(66,6.27)(70,6.28)(74,6.32)(78,6.42)(81.5,6.79)(85,7.35)(88.5,7.54)(92,7.46)(96,7.07)(100,6.55)(104,6.275)(108,6.2)(112,6.2)};
% E5
\addplot[cell] coordinates {(0,7.35)(1.5,7.54)(4,7.58)(7,7.5)(10.5,7.18)(14,6.7)(17.5,6.37)(21,6.25)(24.5,6.2)(28,6.14)(31.5,6.12)(35,6.14)(38,6.22)(41.5,6.36)(45.5,6.79)(49,7.14)(51.5,7.18)(54.5,6.93)(57.5,6.5)(61,6.32)(65,6.27)(69,6.26)(73,6.28)(77,6.35)(81,6.57)(85,7.07)(89,7.35)(92.5,7.21)(96.5,6.79)(100.5,6.39)(104.5,6.245)(108.5,6.19)(112,6.2)};
% E6
\addplot[cell] coordinates {(0,7.07)(1.5,7.35)(4,7.41)(7,7.24)(10.5,6.86)(14,6.47)(17.5,6.29)(21,6.22)(24.5,6.17)(28,6.13)(32,6.12)(36,6.16)(41,6.26)(46,6.37)(51,6.5)(55.5,6.57)(59.5,6.46)(63.5,6.36)(67.5,6.33)(71.5,6.34)(75.5,6.43)(79.5,6.6)(84,6.93)(89.5,7.14)(94,7.0)(98,6.64)(102,6.36)(106,6.25)(110,6.2)(113,6.21)};
% E7
\addplot[cell] coordinates {(0,6.79)(1.5,7.07)(3.5,7.11)(6.5,6.93)(10,6.6)(13.5,6.37)(17,6.27)(20.5,6.21)(24,6.17)(28,6.14)(32,6.14)(37,6.2)(42,6.26)(47,6.3)(51,6.32)(55,6.33)(59,6.31)(63,6.28)(67,6.27)(71,6.28)(75,6.31)(79.5,6.39)(84,6.55)(90,6.75)(95,6.6)(99,6.42)(103,6.3)(107,6.24)(111,6.22)(113,6.22)};
% E8
\addplot[cell] coordinates {(0,7.93)(0.7,7.8)(2,7.74)(4.5,7.74)(7,7.74)(10,7.7)(13.5,7.58)(17,7.14)(20,6.6)(23,6.32)(26,6.22)(29,6.15)(32,6.12)(34.5,6.12)(37,6.17)(39,6.32)(41.5,6.7)(44,7.41)(47,7.62)(50,7.54)(53.5,7.18)(57.5,6.55)(62,6.23)(66,6.18)(71,6.2)(76,6.26)(78.5,6.33)(81,6.6)(84,7.46)(87,7.67)(92,7.59)(96.5,7.21)(101,6.55)(105,6.245)(109,6.18)(113,6.19)};
% E9
\addplot[cell] coordinates {(0,7.46)(1.5,7.58)(4,7.61)(7,7.54)(10.5,7.28)(14,6.79)(17.5,6.41)(21,6.26)(24.5,6.2)(28,6.14)(31,6.12)(34,6.13)(36.5,6.2)(38.5,6.32)(41,6.6)(43.5,7.35)(47,7.62)(50.5,7.54)(54,7.18)(58,6.55)(62.5,6.23)(66.5,6.18)(71.5,6.2)};
% E10
\addplot[cell] coordinates {(0,7.97)(0.6,7.82)(1.5,7.77)(4.5,7.77)(9,7.8)(12.5,7.8)(16,7.76)(19.5,7.66)(22.5,7.41)(25.5,6.79)(28,6.39)(30.5,6.25)(33,6.2)(35,6.19)(37,6.25)(39,6.38)(41.5,6.86)(44.5,7.5)(48,7.62)(51,7.54)(54.5,7.18)(58.5,6.55)(63,6.23)(67,6.18)(72,6.2)};
% E11
\addplot[cell] coordinates {(0,7.82)(0.8,7.74)(2.5,7.68)(5,7.69)(8.5,7.66)(12,7.5)(15.5,7.04)(18.5,6.55)(21.5,6.31)(24.5,6.22)(27.5,6.16)(30.5,6.13)(33,6.12)(35.5,6.15)(37.5,6.24)(39.5,6.38)(42,6.93)(45,7.5)(48.5,7.62)(52,7.54)(55.5,7.18)(59.5,6.55)(64,6.23)(68,6.18)(73,6.2)};
% E12
\addplot[cell] coordinates {(0,6.66)(1,7.07)(2.5,7.28)(5,7.18)(8.5,6.81)(12,6.46)(15.5,6.28)(19,6.21)(22.5,6.16)(26,6.12)(29,6.11)(32,6.14)(34.5,6.22)(36.5,6.35)(39,6.85)(42,7.5)(45,7.61)(48.5,7.54)(52,7.18)(56,6.55)(60.5,6.23)(64.5,6.18)(69.5,6.2)};
\addplot[avgm] table[x=t,y=o]{\avgdata};
\end{axis}
\end{tikzpicture}
\end{document}
